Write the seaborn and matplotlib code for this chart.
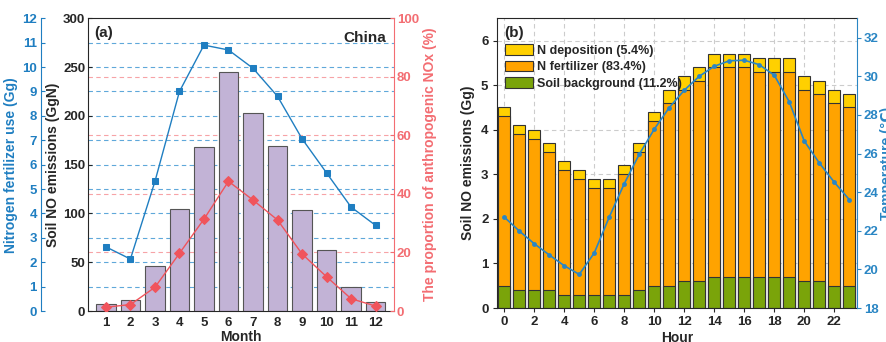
import numpy as np
import pandas as pd
import seaborn as sns
from matplotlib import pyplot as plt
from matplotlib.patches import Patch

sns.set_style('ticks')
plt.rcParams['font.family'] = ['Liberation Sans', 'DejaVu Sans']
plt.rcParams['font.weight'] = 'bold'
plt.rcParams['axes.labelweight'] = 'bold'
plt.rcParams['font.size'] = 9.5

# panel (a): monthly values, China
months = np.arange(1, 13)
soil_no = [7, 11, 46, 105, 168, 245, 203, 169, 104, 63, 25, 9]
fert_use = [2.63, 2.13, 5.31, 9.0, 10.9, 10.7, 9.95, 8.8, 7.06, 5.66, 4.26, 3.51]
anthro_pct = [1.3, 2.2, 8.1, 19.7, 31.4, 44.3, 37.9, 31.1, 19.5, 11.7, 4.2, 1.7]

# panel (b): hourly values
hours = np.arange(24)
soil_bg = [0.5, 0.4, 0.4, 0.4, 0.3, 0.3, 0.3, 0.3, 0.3, 0.4, 0.5, 0.5,
           0.6, 0.6, 0.7, 0.7, 0.7, 0.7, 0.7, 0.7, 0.6, 0.6, 0.5, 0.5]
n_fert = [3.8, 3.5, 3.4, 3.1, 2.8, 2.6, 2.4, 2.4, 2.7, 3.1, 3.7, 4.1,
          4.3, 4.5, 4.7, 4.7, 4.7, 4.6, 4.6, 4.6, 4.3, 4.2, 4.1, 4.0]
n_dep = [0.2, 0.2, 0.2, 0.2, 0.2, 0.2, 0.2, 0.2, 0.2, 0.2, 0.2, 0.3,
         0.3, 0.3, 0.3, 0.3, 0.3, 0.3, 0.3, 0.3, 0.3, 0.3, 0.3, 0.3]
temp = [22.71, 21.99, 21.33, 20.75, 20.19, 19.74, 20.85, 22.71, 24.44, 25.96, 27.26, 28.38,
        29.28, 30.0, 30.52, 30.8, 30.83, 30.6, 30.05, 28.67, 26.64, 25.51, 24.51, 23.61]
legend_labels = ['N deposition (5.4%)', 'N fertilizer (83.4%)', 'Soil background (11.2%)']

blue = '#1F7EC1'
red = '#F0545C'
red_axis = '#F36D72'
c_dep, c_fert, c_bg = '#FFD000', '#FFA300', '#7AA40A'

fig = plt.figure(figsize=(8.87, 3.42), dpi=100)

# ---------------- (a)
ax = fig.add_axes([0.0992, 0.0906, 0.345, 0.856])
sns.barplot(x=months, y=soil_no, native_scale=True, width=0.8, color='#C2B3D6',
            saturation=1, edgecolor='#555555', linewidth=0.8, ax=ax)
ax.set_xlim(0.27, 12.75)
ax.set_ylim(0, 300)
ax.set_yticks(range(0, 301, 50))
ax.set_xticks(months)
ax.set_xticklabels([str(m) for m in months])
ax.tick_params(axis='x', length=0, pad=4)
ax.tick_params(axis='y', direction='in', length=3, pad=2)
ax.spines['right'].set_visible(False)
ax.set_xlabel('Month', fontsize=10, labelpad=1)
ax.set_ylabel('Soil NO emissions (GgN)', fontsize=10, labelpad=2)
ax.text(0.02, 0.975, '(a)', transform=ax.transAxes, ha='left', va='top', fontsize=11)
ax.text(0.975, 0.955, 'China', transform=ax.transAxes, ha='right', va='top', fontsize=11)

ax_f = ax.twinx()
sns.lineplot(x=months, y=fert_use, ax=ax_f, color=blue, marker='s', markersize=5,
             markeredgecolor=blue, linewidth=1)
ax_f.set_ylim(0, 12)
ax_f.set_yticks(range(0, 13))
ax_f.yaxis.tick_left()
ax_f.yaxis.set_label_position('left')
ax_f.spines['left'].set_visible(True)
ax_f.spines['left'].set_position(('axes', -0.1536))
ax_f.spines['left'].set_color(blue)
for s in ('right', 'top', 'bottom'):
    ax_f.spines[s].set_visible(False)
ax_f.tick_params(axis='y', colors=blue, direction='in', length=3, pad=3)
ax_f.set_ylabel('Nitrogen fertilizer use (Gg)', color=blue, fontsize=10, labelpad=3)

ax_r = ax.twinx()
sns.lineplot(x=months, y=anthro_pct, ax=ax_r, color=red, marker='D', markersize=5,
             markeredgecolor=red, linewidth=1)
ax_r.set_ylim(0, 100)
ax_r.set_yticks(range(0, 101, 20))
for s in ('left', 'top', 'bottom'):
    ax_r.spines[s].set_visible(False)
ax_r.spines['right'].set_color(red_axis)
ax_r.tick_params(axis='y', colors=red_axis, direction='in', length=3, pad=2)
ax_r.set_ylabel('The proportion of anthropogenic NOx (%)', color=red_axis, fontsize=10, labelpad=3)

# dashed guide lines from the twin axes, drawn behind the bars
for t in ax_f.get_yticks()[1:-1]:
    ax.axhline(t * 300 / 12, ls=(0, (4, 3)), color='#5FA8DA', lw=0.8, zorder=0)
for t in ax_r.get_yticks()[1:-1]:
    ax.axhline(t * 300 / 100, ls=(0, (4, 3)), color='#F7A3A6', lw=0.8, zorder=0)

# ---------------- (b)
axb = fig.add_axes([0.560, 0.0994, 0.406, 0.847])
fert_top = np.array(soil_bg) + np.array(n_fert)
total = fert_top + np.array(n_dep)
for h, c in ((total, c_dep), (fert_top, c_fert), (soil_bg, c_bg)):
    sns.barplot(x=hours, y=h, native_scale=True, width=0.8, color=c, saturation=1,
                edgecolor='#333333', linewidth=0.8, ax=axb)
axb.set_xlim(-0.5, 23.5)
axb.set_ylim(0, 6.5)
axb.set_xticks(range(0, 24, 2))
axb.set_xticklabels([str(h) for h in range(0, 24, 2)])
axb.set_yticks(range(0, 7))
axb.grid(True, ls=(0, (4, 3)), color='#cccccc', lw=0.8)
axb.set_axisbelow(True)
axb.tick_params(axis='both', length=3, pad=3)
axb.spines['right'].set_visible(False)
axb.set_xlabel('Hour', fontsize=10, labelpad=2)
axb.set_ylabel('Soil NO emissions (Gg)', fontsize=10, labelpad=4)
axb.text(0.02, 0.975, '(b)', transform=axb.transAxes, ha='left', va='top', fontsize=11)
handles = [Patch(facecolor=c, edgecolor='#333333', linewidth=0.8) for c in (c_dep, c_fert, c_bg)]
axb.legend(handles, legend_labels, loc='upper left', bbox_to_anchor=(0.0, 0.94),
           frameon=False, fontsize=9, handlelength=2.2, handleheight=0.9,
           labelspacing=0.32, handletextpad=0.3, borderaxespad=0.3)

ax_t = axb.twinx()
sns.lineplot(x=hours, y=temp, ax=ax_t, color='#2A86C4', marker='o', markersize=3.5,
             markeredgewidth=0, linewidth=1.2)
ax_t.set_ylim(18, 33)
ax_t.set_yticks(range(18, 33, 2))
for s in ('left', 'top', 'bottom'):
    ax_t.spines[s].set_visible(False)
ax_t.spines['right'].set_color('#2A86C4')
ax_t.tick_params(axis='y', colors='#2A86C4', length=3, pad=2)
ax_t.set_ylabel('Temperature (℃)', color='#2A86C4', fontsize=10, labelpad=1)

fig.savefig('out.png', dpi=100)
